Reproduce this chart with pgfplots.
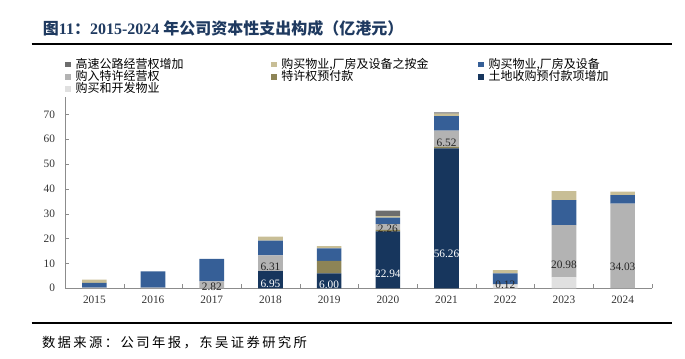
\documentclass[border=0pt]{standalone}
\usepackage{fontspec}
\setmainfont{Liberation Serif}
\newfontfamily\cjk{Noto Sans CJK SC}
\usepackage{pgfplots}
\usepackage{pgfplotstable}
\pgfplotsset{compat=1.18}
\definecolor{cHwy}{HTML}{6D6D6D}
\definecolor{cDep}{HTML}{C8BE96}
\definecolor{cPPE}{HTML}{365F97}
\definecolor{cFbuy}{HTML}{B3B3B3}
\definecolor{cFpre}{HTML}{8D8456}
\definecolor{cLand}{HTML}{17365D}
\definecolor{cDev}{HTML}{E0E0E0}
\definecolor{axisgray}{HTML}{8C8C8C}
\definecolor{titleblue}{HTML}{1F3A60}

\pgfplotstableread{
x dev land fpre fbuy ppe dep hwy lland lfbuy
0 0 0 0 0.3 1.85 1.35 0 {} {}
1 0 0 0 0.3 6.54 0 0 {} {}
2 0 0 0 2.82 9.0 0 0 {} 2.82
3 0 6.95 0 6.31 5.9 1.6 0 6.95 6.31
4 0 6.00 5.0 0 5.1 0.9 0 6.00 {}
5 0 22.94 0.6 2.26 2.6 0.6 2.3 22.94 2.26
6 0 56.26 0.7 6.52 5.8 1.0 0.5 56.26 6.52
7 1.5 0 0 0.12 4.4 1.3 0 {} 0.12
8 4.4 0 0 20.98 10.1 3.6 0 {} 20.98
9 0 0 0 34.03 3.5 1.4 0 {} 34.03
}\data

\begin{document}
\begin{tikzpicture}
\useasboundingbox (0pt,0pt) rectangle (513.75pt,-268.5pt);
\node[anchor=base west, inner sep=0pt, text=titleblue, font=\fontsize{12}{14}\selectfont\bfseries] at (32pt,-26.2pt)
 {{\cjk 图}11{\cjk ：}2015-2024 {\cjk 年公司资本性支出构成（亿港元）}};
\draw[line width=1.4pt] (23.8pt,-33pt) -- (504pt,-33pt);
\draw[line width=1.4pt] (23.8pt,-242pt) -- (504pt,-242pt);
\node[anchor=base west, inner sep=0pt, font=\cjk\fontsize{10}{12}\selectfont\addfontfeatures{LetterSpace=18}] at (31.3pt,-260.9pt)
 {数据来源：公司年报，东吴证券研究所};

\begin{axis}[
 at={(48.75pt,-216.2pt)}, anchor=south west,
 scale only axis, width=440.25pt, height=143.5pt,
 xmin=-0.5, xmax=9.5, ymin=0, ymax=77,
 ybar stacked, bar width=0.42,
 axis x line=bottom, axis y line=left,
 axis line style={-, draw=axisgray, line width=0.6pt},
 tick align=inside,
 xtick={0,...,9},
 xticklabels={2015,2016,2017,2018,2019,2020,2021,2022,2023,2024},
 minor xtick={-0.5,0.5,...,9.5},
 xtick style={draw=axisgray, /pgfplots/major tick length=0pt, /pgfplots/minor tick length=3pt},
 ytick={0,10,...,70},
 ytick style={draw=axisgray, /pgfplots/major tick length=3pt},
 tick label style={font=\fontsize{8.5}{10}\selectfont, text=black!80},
 /pgf/number format/assume math mode=true,
 yticklabel style={xshift=-4pt},
 xticklabel style={yshift=-2pt},
 legend columns=3,
 reverse legend,
 legend cell align=left,
 legend image code/.code={\fill[#1] (0pt,-2.15pt) rectangle (4.3pt,2.15pt);},
 legend style={
   at={(axis description cs:0,1)}, anchor=south west, yshift=1.3pt,
   draw=none, fill=none, inner sep=0pt, outer sep=0pt,
   font=\cjk\fontsize{9}{9}\selectfont,
   row sep=0pt,
   nodes={inner sep=0pt, text height=7.2pt, text depth=2pt},
   /tikz/every odd column/.style={column sep=3.6pt},
   /tikz/column 2/.style={column sep=65.5pt},
   /tikz/column 4/.style={column sep=37pt},
 },
]
\addplot[fill=cDev, draw=none] table[x=x, y=dev] {\data};
\addlegendentry{购买和开发物业}
\addplot[fill=cLand, draw=none,
  nodes near coords, point meta=explicit symbolic,
  visualization depends on={\thisrow{land} \as \seg},
  every node near coord/.append style={font=\fontsize{8.5}{10}\selectfont, text=white, anchor=center, inner sep=0pt, yshift={-0.466pt*\seg}}]
  table[x=x, y=land, meta=lland] {\data};
\addlegendentry{土地收购预付款项增加}
\addplot[fill=cFpre, draw=none] table[x=x, y=fpre] {\data};
\addlegendentry{特许权预付款}
\addplot[fill=cFbuy, draw=none,
  nodes near coords, point meta=explicit symbolic,
  visualization depends on={\thisrow{fbuy} \as \seg},
  every node near coord/.append style={font=\fontsize{8.5}{10}\selectfont, text=black!85, anchor=center, inner sep=0pt, yshift={-0.466pt*\seg}}]
  table[x=x, y=fbuy, meta=lfbuy] {\data};
\addlegendentry{购入特许经营权}
\addplot[fill=cPPE, draw=none] table[x=x, y=ppe] {\data};
\addlegendentry{购买物业,厂房及设备}
\addplot[fill=cDep, draw=none] table[x=x, y=dep] {\data};
\addlegendentry{购买物业,厂房及设备之按金}
\addplot[fill=cHwy, draw=none] table[x=x, y=hwy] {\data};
\addlegendentry{高速公路经营权增加}
\end{axis}
\end{tikzpicture}
\end{document}
